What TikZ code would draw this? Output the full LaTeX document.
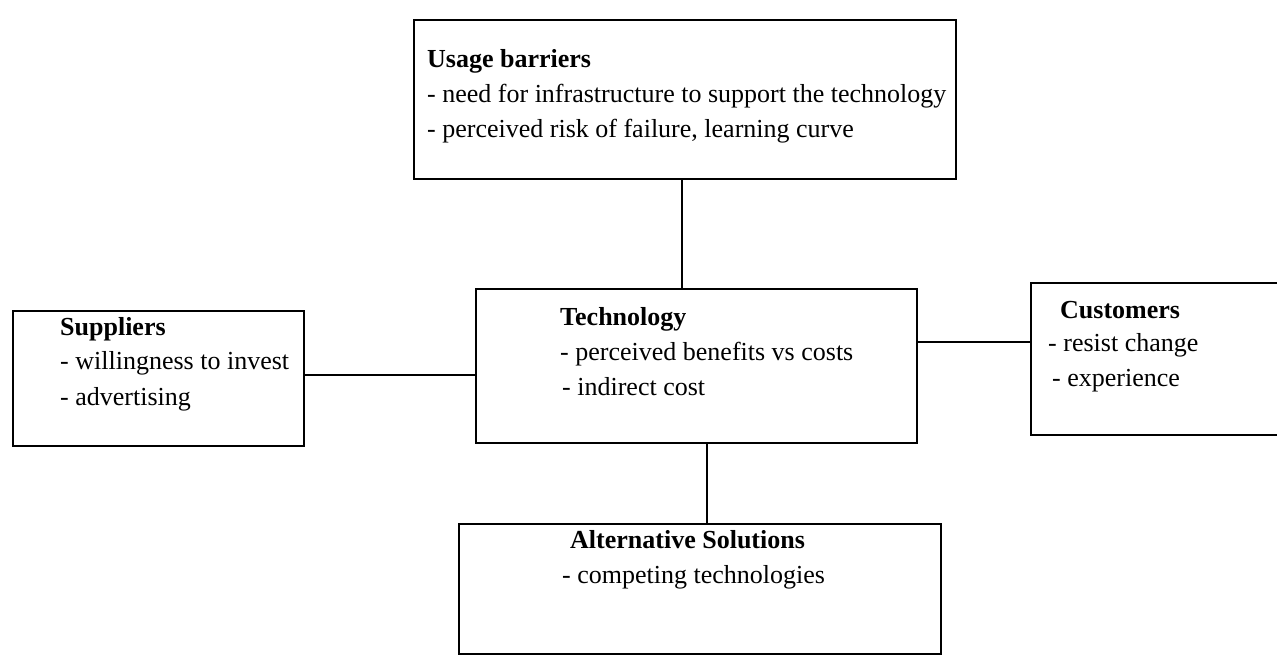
\documentclass[tikz,border=0pt]{standalone}
\usepackage{fontspec}
\setmainfont{Liberation Serif}
\begin{document}
\begin{tikzpicture}[x=1pt,y=-1pt,
  box/.style={draw=black,line width=2.2pt,rectangle,inner sep=0pt,anchor=north west},
  txt/.style={anchor=base west,inner sep=0pt,font=\fontsize{26}{32}\selectfont},
  ttl/.style={txt,font=\fontsize{26}{32}\selectfont\bfseries},
  link/.style={draw=black,line width=2.2pt}]
\useasboundingbox (0,0) rectangle (1277,657);
% boxes
\node[box,minimum width=542pt,minimum height=159pt] (ub) at (413,19) {};
\node[box,minimum width=441pt,minimum height=154pt] (tech) at (475,288) {};
\node[box,minimum width=291pt,minimum height=135pt] (sup) at (12,310) {};
\node[box,minimum width=260pt,minimum height=152pt] (cus) at (1030,282) {};
\node[box,minimum width=482pt,minimum height=130pt] (alt) at (458,523) {};
% texts
\node[ttl] (ubt) at (427,67) {Usage barriers};
\node[txt] (ub1) at (427,102) {- need for infrastructure to support the technology};
\node[txt] (ub2) at (427,137) {- perceived risk of failure, learning curve};
\node[ttl] (techt) at (560,325) {Technology};
\node[txt] (tech1) at (560,360) {- perceived benefits vs costs};
\node[txt] (tech2) at (562,395) {- indirect cost};
\node[ttl] (supt) at (60,335) {Suppliers};
\node[txt] (sup1) at (60,369) {- willingness to invest};
\node[txt] (sup2) at (60,405) {- advertising};
\node[ttl] (cust) at (1060,318) {Customers};
\node[txt] (cus1) at (1048,351) {- resist change};
\node[txt] (cus2) at (1052,386) {- experience};
\node[ttl] (altt) at (570,548) {Alternative Solutions};
\node[txt] (alt1) at (562,583) {- competing technologies};
% connectors
\draw[link] (ub.south -| 682,0) -- (tech.north -| 682,0);
\draw[link] (sup.east |- 0,375) -- (tech.west |- 0,375);
\draw[link] (tech.east |- 0,342) -- (cus.west |- 0,342);
\draw[link] (tech.south -| 707,0) -- (alt.north -| 707,0);
\end{tikzpicture}
\end{document}
